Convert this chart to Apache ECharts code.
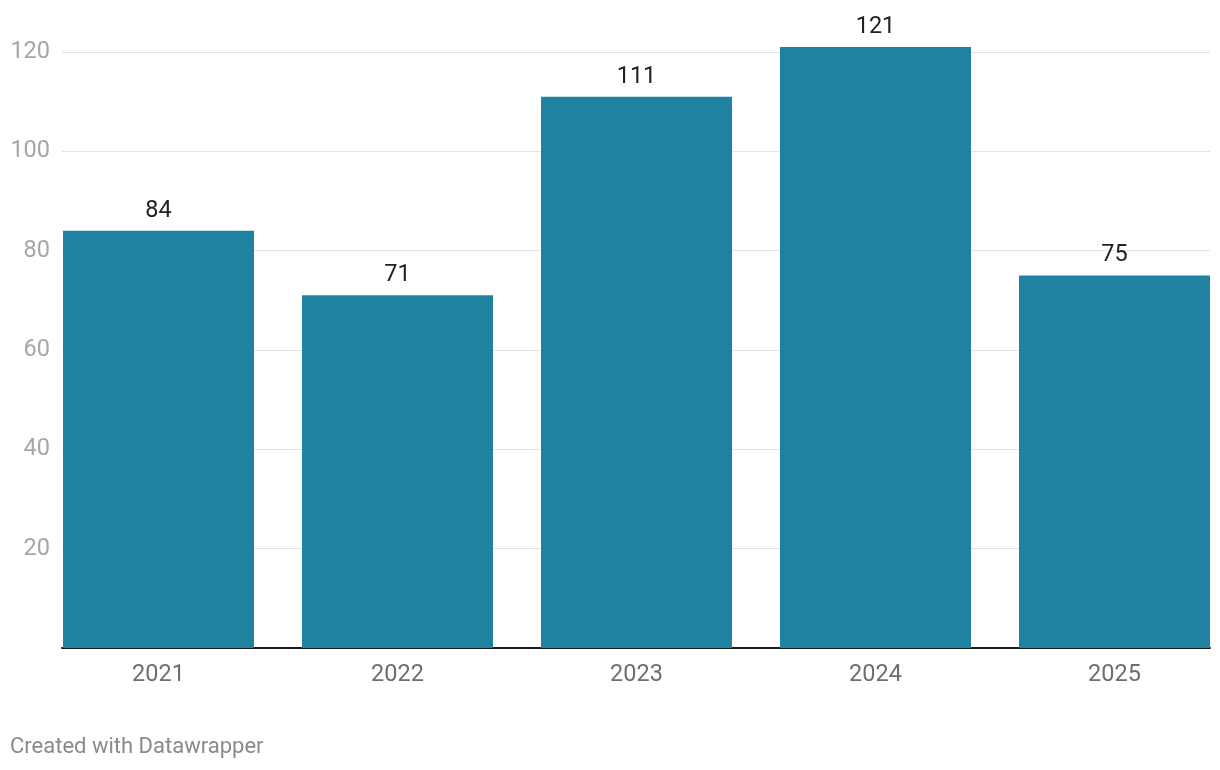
<!DOCTYPE html>
<html>
<head>
<meta charset="utf-8">
<script src="https://cdn.jsdelivr.net/npm/echarts@6/dist/echarts.min.js"></script>
<style>
html,body{margin:0;padding:0;background:#fff;}
#c{width:1220px;height:770px;}
</style>
</head>
<body>
<div id="c"></div>
<script>
const categories = ['2021', '2022', '2023', '2024', '2025'];
const values = [84, 71, 111, 121, 75];
const yTicks = [20, 40, 60, 80, 100, 120];

const FONT = 'Roboto, "Noto Sans", sans-serif';
const chart = echarts.init(document.getElementById('c'), null, {renderer: 'canvas'});
chart.setOption({
  animation: false,
  backgroundColor: '#fff',
  grid: [
    {left: 39, width: 1195, top: 52, bottom: 122, containLabel: false, outerBoundsMode: 'none'},
    {left: 62, right: 10, top: 52, bottom: 122, containLabel: false, outerBoundsMode: 'none'}
  ],
  xAxis: [
    {
      gridIndex: 0, type: 'category', data: categories,
      axisLine: {show: false}, axisTick: {show: false},
      axisLabel: {color: '#6e6e6e', fontSize: 23.5, fontFamily: FONT, margin: 15}
    },
    {
      gridIndex: 1, type: 'category', data: categories,
      axisLine: {show: true, lineStyle: {color: '#1a1a1a', width: 2}},
      axisTick: {show: false}, axisLabel: {show: false}, splitLine: {show: false}
    }
  ],
  yAxis: [
    {
      gridIndex: 0, type: 'value', min: 0, max: 120, interval: 20,
      show: false, splitLine: {show: false}
    },
    {
      gridIndex: 1, type: 'value', min: 0, max: 120, interval: 20,
      axisLine: {show: false}, axisTick: {show: false},
      splitLine: {show: true, lineStyle: {color: '#e3e3e3', width: 1}},
      axisLabel: {
        color: '#a6a6a6', fontSize: 23.5, fontFamily: FONT, margin: 12,
        formatter: v => (yTicks.indexOf(v) >= 0 ? String(v) : '')
      }
    }
  ],
  series: [{
    type: 'bar', xAxisIndex: 0, yAxisIndex: 0,
    data: values, barWidth: 191, clip: false,
    itemStyle: {color: '#1f82a1'},
    label: {show: true, position: 'top', distance: 8, color: '#222', fontSize: 23.5, fontFamily: FONT},
    z: 3
  }],
  graphic: [{
    type: 'text', left: 10, top: 736,
    style: {text: 'Created with Datawrapper', fill: '#8a8a8a', fontSize: 22, fontFamily: FONT}
  }]
});
</script>
</body>
</html>
